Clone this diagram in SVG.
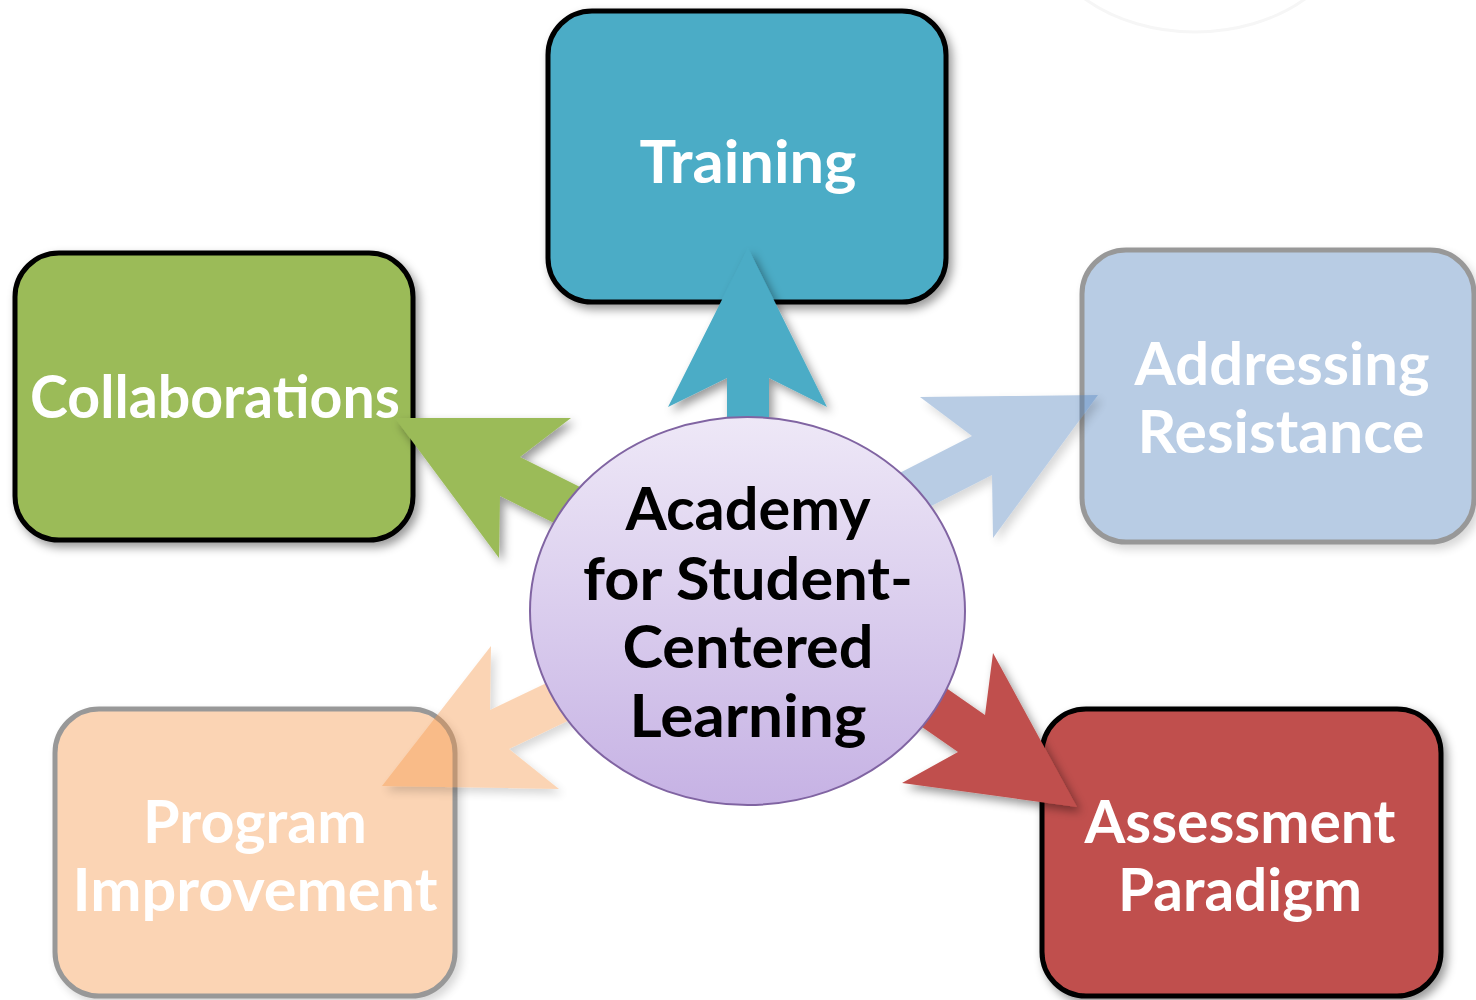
<svg xmlns="http://www.w3.org/2000/svg" width="1476" height="1000" viewBox="0 0 1476 1000">
<defs>
<filter id="sh" x="-20%" y="-20%" width="150%" height="150%">
<feDropShadow dx="4" dy="5" stdDeviation="5" flood-color="#000" flood-opacity="0.4"/>
</filter>
<linearGradient id="cg" x1="0" y1="0" x2="0" y2="1">
<stop offset="0" stop-color="#EEE8F7"/>
<stop offset="1" stop-color="#C6B2E4"/>
</linearGradient>
</defs>
<style>
.box{stroke:#000;stroke-width:5}
.bt{font-family:Lato,"Open Sans","Liberation Sans",sans-serif;font-weight:bold;font-size:60px;fill:#fff;text-anchor:middle}
.ct{font-family:Lato,"Open Sans","Liberation Sans",sans-serif;font-weight:bold;font-size:60px;fill:#000;text-anchor:middle}
</style>
<rect width="1476" height="1000" fill="#fff"/>
<ellipse cx="1195" cy="-85" rx="158" ry="117" fill="none" stroke="#f6f6f6" stroke-width="3"/>

<g id="training">
<rect class="box" x="548" y="11" width="398" height="291" rx="44" fill="#4BACC6" filter="url(#sh)"/>
<text class="bt" x="748" y="183" textLength="217" lengthAdjust="spacingAndGlyphs">Training</text>
</g>
<g id="collaborations">
<rect class="box" x="15" y="253" width="398" height="287" rx="44" fill="#9BBB59" filter="url(#sh)"/>
<text class="bt" x="215" y="418" textLength="370" lengthAdjust="spacingAndGlyphs">Collaborations</text>
</g>
<g id="addressing" opacity="0.4">
<rect class="box" x="1082" y="250" width="392" height="292" rx="44" fill="#4F81BD" filter="url(#sh)"/>
</g>
<g id="addressing-label">
<text class="bt" x="1282" y="385" textLength="295" lengthAdjust="spacingAndGlyphs">Addressing</text>
<text class="bt" x="1281" y="453" textLength="287" lengthAdjust="spacingAndGlyphs">Resistance</text>
</g>
<g id="program" opacity="0.4">
<rect class="box" x="55" y="709" width="400" height="287" rx="44" fill="#F79646" filter="url(#sh)"/>
</g>
<g id="program-label">
<text class="bt" x="255" y="843" textLength="224" lengthAdjust="spacingAndGlyphs">Program</text>
<text class="bt" x="255" y="911" textLength="365" lengthAdjust="spacingAndGlyphs">Improvement</text>
</g>
<g id="assessment">
<rect class="box" x="1042" y="709" width="399" height="287" rx="44" fill="#C0504D" filter="url(#sh)"/>
<text class="bt" x="1240" y="843" textLength="311" lengthAdjust="spacingAndGlyphs">Assessment</text>
<text class="bt" x="1240" y="911" textLength="244" lengthAdjust="spacingAndGlyphs">Paradigm</text>
</g>

<g id="connectors">
<polygon points="748,248 827,407 769,378 769,450 727,450 727,378 668,407" fill="#4BACC6" filter="url(#sh)"/>
<polygon points="395,418 571,418 520,457 592,493 572,532 500,496 499,558" fill="#9BBB59" filter="url(#sh)"/>
<polygon points="1098,395 993,538 992,475 894,525 874,486 972,436 920,397" fill="#4F81BD" opacity="0.4" filter="url(#sh)"/>
<polygon points="1077,807 993,653 985,715 903,658 876,695 958,752 902,783" fill="#C0504D" filter="url(#sh)"/>
<polygon points="382,786 491,646 490,710 580,667 599,706 509,749 559,789" fill="#F79646" opacity="0.4" filter="url(#sh)"/>
</g>

<g id="center">
<ellipse cx="747.5" cy="611" rx="217.5" ry="194" fill="url(#cg)" stroke="#8064A2" stroke-width="2"/>
<text class="ct" x="748" y="530" textLength="245" lengthAdjust="spacingAndGlyphs">Academy</text>
<text class="ct" x="748" y="600" textLength="330" lengthAdjust="spacingAndGlyphs">for Student-</text>
<text class="ct" x="748" y="668" textLength="251" lengthAdjust="spacingAndGlyphs">Centered</text>
<text class="ct" x="748" y="737" textLength="237" lengthAdjust="spacingAndGlyphs">Learning</text>
</g>
</svg>
